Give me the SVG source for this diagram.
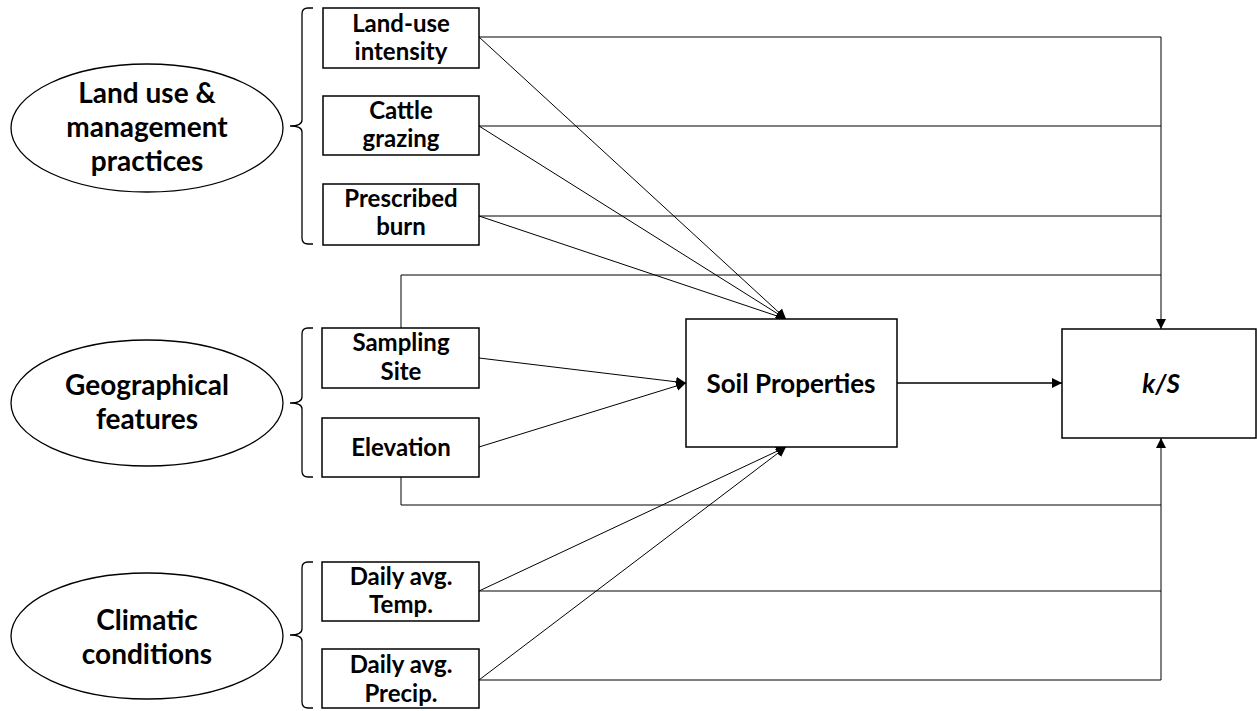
<svg xmlns="http://www.w3.org/2000/svg" width="1257" height="711" viewBox="0 0 1257 711">
<defs>
<marker id="ah" viewBox="0 0 10 10" refX="10" refY="5" markerWidth="10" markerHeight="10" markerUnits="userSpaceOnUse" orient="auto">
<path d="M0,0 L10,5 L0,10 Z" fill="#000"/>
</marker>
</defs>
<style>
.box{fill:#fff;stroke:#000;stroke-width:1.5}
.ell{fill:#fff;stroke:#000;stroke-width:1.3}
.brace{fill:none;stroke:#000;stroke-width:1.3}
.t{font-family:Lato,"Liberation Sans",sans-serif;font-weight:bold;font-size:24px;text-anchor:middle;fill:#000}
.te{font-family:Lato,"Liberation Sans",sans-serif;font-weight:bold;font-size:28px;text-anchor:middle;fill:#000}
.c{fill:none;stroke:#000;stroke-width:1}
.ca{fill:none;stroke:#000;stroke-width:1;marker-end:url(#ah)}
</style>
<g id="connectors">
<polyline class="c" points="479,37 1161,37 1161,275"/>
<line class="c" x1="479" y1="126" x2="1161" y2="126"/>
<line class="c" x1="479" y1="216" x2="1161" y2="216"/>
<polyline class="ca" points="401,328 401,275 1161,275 1161,329"/>
<polyline class="c" points="401,477 401,505 1161,505"/>
<line class="c" x1="479" y1="591" x2="1161" y2="591"/>
<polyline class="ca" points="479,680 1161,680 1161,438"/>
<line class="ca" x1="479" y1="37" x2="786" y2="319"/>
<line class="ca" x1="479" y1="126" x2="786" y2="319"/>
<line class="ca" x1="479" y1="216" x2="786" y2="319"/>
<line class="ca" x1="479" y1="358" x2="686" y2="383"/>
<line class="ca" x1="479" y1="447" x2="686" y2="383"/>
<line class="ca" x1="479" y1="591" x2="786" y2="447"/>
<line class="ca" x1="479" y1="680" x2="786" y2="447"/>
<line class="ca" x1="897" y1="383" x2="1062" y2="383" style="stroke-width:1.5"/>
</g>
<g id="group-land">
<ellipse class="ell" cx="147" cy="128" rx="136" ry="64"/>
<text class="te" x="147" y="103">Land use &amp;</text>
<text class="te" x="147" y="137">management</text>
<text class="te" x="147" y="171">practices</text>
<path class="brace" d="M313,8 L308,8 Q302,8 302,14 L302,120 Q302,126 290,126 Q302,126 302,132 L302,238 Q302,244 308,244 L313,244"/>
</g>
<g id="group-geo">
<ellipse class="ell" cx="147" cy="403" rx="136" ry="63"/>
<text class="te" x="147" y="395">Geographical</text>
<text class="te" x="147" y="429">features</text>
<path class="brace" d="M313,328 L308,328 Q302,328 302,334 L302,397 Q302,403 290,403 Q302,403 302,409 L302,471 Q302,477 308,477 L313,477"/>
</g>
<g id="group-clim">
<ellipse class="ell" cx="147" cy="636" rx="136" ry="63"/>
<text class="te" x="147" y="630">Climatic</text>
<text class="te" x="147" y="664">conditions</text>
<path class="brace" d="M313,562 L308,562 Q302,562 302,568 L302,629 Q302,635 290,635 Q302,635 302,641 L302,702 Q302,708 308,708 L313,708"/>
</g>
<g id="node-landuse">
<rect class="box" x="323" y="8" width="156" height="60"/>
<text class="t" x="401" y="32">Land-use</text>
<text class="t" x="401" y="60">intensity</text>
</g>
<g id="node-cattle">
<rect class="box" x="323" y="96" width="156" height="59"/>
<text class="t" x="401" y="119">Cattle</text>
<text class="t" x="401" y="147">grazing</text>
</g>
<g id="node-burn">
<rect class="box" x="323" y="184" width="156" height="61"/>
<text class="t" x="401" y="207">Prescribed</text>
<text class="t" x="401" y="235">burn</text>
</g>
<g id="node-site">
<rect class="box" x="322" y="328" width="157" height="60"/>
<text class="t" x="401" y="351">Sampling</text>
<text class="t" x="401" y="380">Site</text>
</g>
<g id="node-elev">
<rect class="box" x="322" y="418" width="157" height="59"/>
<text class="t" x="401" y="456">Elevation</text>
</g>
<g id="node-temp">
<rect class="box" x="322" y="562" width="157" height="59"/>
<text class="t" x="401" y="585">Daily avg.</text>
<text class="t" x="401" y="613">Temp.</text>
</g>
<g id="node-precip">
<rect class="box" x="322" y="649" width="157" height="59"/>
<text class="t" x="401" y="673">Daily avg.</text>
<text class="t" x="401" y="702">Precip.</text>
</g>
<g id="node-soil">
<rect class="box" x="686" y="319" width="211" height="128"/>
<text class="t" x="791" y="393" style="font-size:26px">Soil Properties</text>
</g>
<g id="node-ks">
<rect class="box" x="1062" y="329" width="194" height="109"/>
<text class="t" x="1161" y="393" style="font-size:26px;font-style:italic">k/S</text>
</g>
</svg>
